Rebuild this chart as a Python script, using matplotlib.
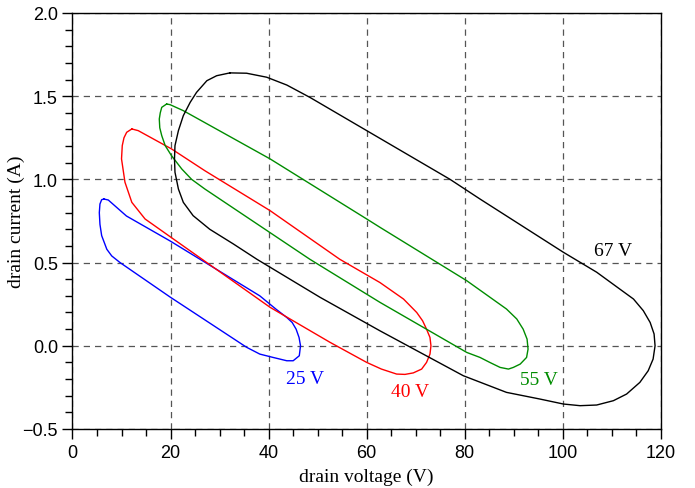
import matplotlib
matplotlib.use("Agg")
import matplotlib.pyplot as plt
from matplotlib.ticker import MultipleLocator

# closed I-V loops (drain voltage V, drain current A)
v25 = [6.4, 7.3, 11.0, 19.9, 38.2, 41.5, 43.7, 44.8, 45.6, 46.2, 46.5, 46.25, 45.0, 43.7, 40.9, 38.2,
       35.5, 19.9, 9.7, 8.0, 7.0, 5.95, 5.6, 5.47, 5.6, 5.95, 6.4]
i25 = [0.882, 0.876, 0.78, 0.63, 0.30, 0.22, 0.17, 0.14, 0.10, 0.05, 0.0, -0.06, -0.09, -0.09, -0.07, -0.05,
       -0.009, 0.293, 0.50, 0.54, 0.58, 0.662, 0.73, 0.80, 0.852, 0.878, 0.882]

v40 = [12.1, 13.4, 20.2, 27.0, 40.3, 54.5, 62.7, 67.5, 70.2, 71.4, 72.2, 72.9, 73.1, 72.9, 72.2, 71.2,
       69.5, 67.8, 66.1, 63.0, 60.0, 52.5, 40.3, 17.2, 14.8, 12.1, 10.7, 10.0, 10.15, 10.5, 11.05, 12.1]
i40 = [1.303, 1.293, 1.183, 1.052, 0.812, 0.52, 0.38, 0.281, 0.20, 0.15, 0.10, 0.05, 0.0, -0.05, -0.10, -0.14,
       -0.163, -0.172, -0.17, -0.14, -0.10, 0.021, 0.231, 0.712, 0.762, 0.862, 0.983, 1.123, 1.203, 1.25, 1.283, 1.303]

v55 = [19.2, 19.9, 22.6, 40.3, 60.0, 62.7, 80.4, 88.5, 90.6, 91.9, 92.7, 92.9, 92.6, 91.3, 89.9, 88.9,
       87.2, 85.1, 83.1, 80.4, 62.7, 48.4, 27.0, 24.3, 22.3, 20.2, 18.9, 18.2, 17.8, 17.7, 17.9, 18.2, 19.2]
i55 = [1.453, 1.449, 1.413, 1.123, 0.762, 0.712, 0.391, 0.221, 0.161, 0.10, 0.04, -0.02, -0.07, -0.11, -0.13, -0.14,
       -0.13, -0.10, -0.07, -0.04, 0.261, 0.52, 0.942, 1.0, 1.062, 1.142, 1.203, 1.263, 1.31, 1.363, 1.40, 1.433, 1.453]

v67 = [32.1, 35.5, 39.6, 43.7, 48.4, 60.0, 77.0, 83.1, 100.1, 106.9, 111.6, 114.4, 116.4, 117.8, 118.6,
       118.8, 118.4, 117.4, 115.7, 113.0, 110.3, 106.9, 103.5, 100.1, 95.3, 88.5, 79.7, 62.7, 50.5, 37.6,
       32.8, 28.0, 24.6, 22.6, 21.6, 20.9, 20.8, 20.9, 21.6, 22.6, 24.0, 25.3, 27.4, 29.4, 32.1]
i67 = [1.64, 1.638, 1.614, 1.567, 1.493, 1.293, 1.0, 0.882, 0.562, 0.442, 0.341, 0.281, 0.211, 0.14, 0.071,
       0.0, -0.08, -0.15, -0.22, -0.29, -0.33, -0.356, -0.36, -0.35, -0.32, -0.28, -0.18, 0.09, 0.291, 0.52,
       0.612, 0.70, 0.782, 0.862, 0.942, 1.043, 1.123, 1.203, 1.293, 1.383, 1.463, 1.523, 1.593, 1.623, 1.64]

labels = ["25 V", "40 V", "55 V", "67 V"]
label_pos = [(47.4, -0.195), (68.8, -0.276), (95.2, -0.20), (110.3, 0.57)]
colors = ["#0000ff", "#ff0000", "#008c00", "#000000"]

fig = plt.figure(figsize=(6.95, 4.89), dpi=100)
ax = fig.add_axes([0.1043, 0.1207, 0.8467, 0.8507])

for v, i, c in zip([v25, v40, v55, v67], [i25, i40, i55, i67], colors):
    ax.plot(v, i, color=c, lw=1.0, solid_joinstyle="round")

for t, (x, y), c in zip(labels, label_pos, colors):
    ax.text(x, y, t, color=c, fontsize=14, family="Liberation Serif", ha="center", va="center")

ax.set_xlim(0, 120)
ax.set_ylim(-0.5, 2.0)
ax.xaxis.set_major_locator(MultipleLocator(20))
ax.xaxis.set_minor_locator(MultipleLocator(5))
ax.yaxis.set_major_locator(MultipleLocator(0.5))
ax.yaxis.set_minor_locator(MultipleLocator(0.1))
ax.grid(True, which="major", color="#555555", linestyle=(0, (5, 4)), lw=0.9)
ax.tick_params(which="major", direction="out", length=7, width=1, top=False, right=False,
               labelsize=13)
ax.tick_params(which="minor", direction="out", length=5, width=1, top=False, right=False)
for lab in ax.get_xticklabels() + ax.get_yticklabels():
    lab.set_family("Liberation Sans")
ax.yaxis.set_major_formatter(plt.FuncFormatter(lambda y, p: ("%.1f" % y).replace("-", "\u2212")))
for s in ax.spines.values():
    s.set_linewidth(1.0)

ax.set_xlabel("drain voltage (V)", family="Liberation Serif", fontsize=14, labelpad=5)
ax.set_ylabel("drain current (A)", family="Liberation Serif", fontsize=14, labelpad=-2)

fig.savefig("out.png", dpi=100)
